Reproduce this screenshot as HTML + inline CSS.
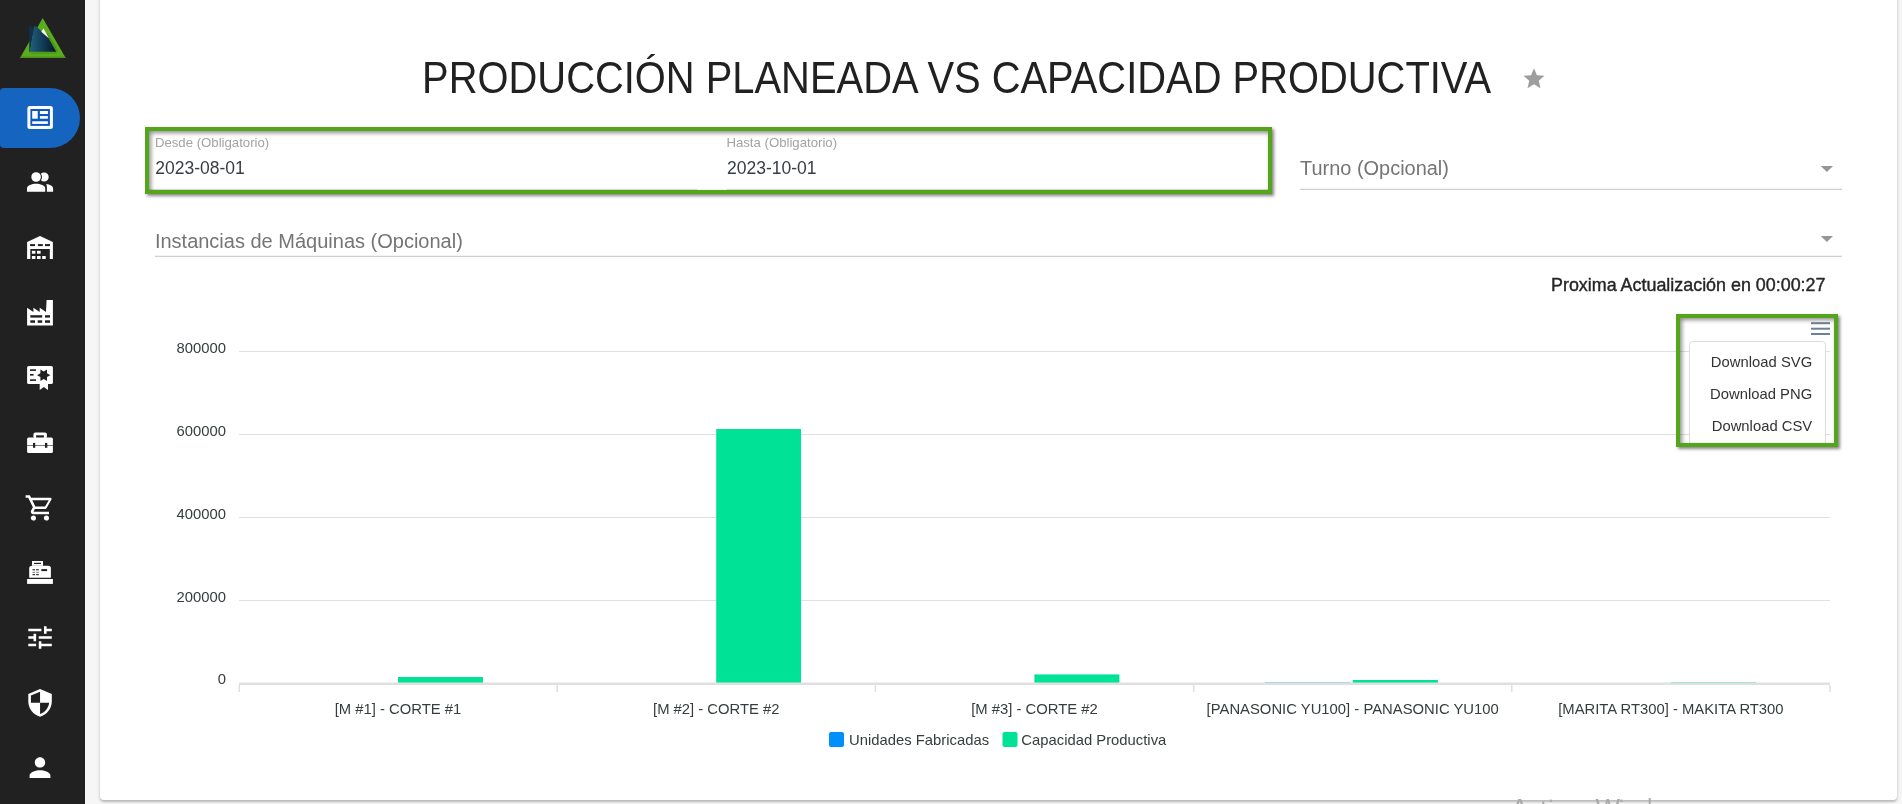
<!DOCTYPE html>
<html><head><meta charset="utf-8">
<style>
html,body{margin:0;padding:0;}
body{width:1902px;height:804px;overflow:hidden;background:#f6f6f6;position:relative;font-family:"Liberation Sans",sans-serif;}
#side{position:absolute;left:0;top:0;width:85px;height:804px;background:#212121;}
#pill{position:absolute;left:0;top:88px;width:80px;height:60px;background:#1565c0;border-radius:4px 30px 30px 4px;}
#card{position:absolute;left:100px;top:-10px;width:1797px;height:810px;background:#fff;border-radius:4px;box-shadow:0 2px 2px rgba(0,0,0,.18),0 1px 4px rgba(0,0,0,.12);}
.gb{position:absolute;border:4px solid #54a51a;box-shadow:2px 2px 3px rgba(0,0,0,.48), inset 2px 2px 4px rgba(0,0,0,.45);box-sizing:border-box;}
.ylab text,.menu text,.sqe{transform-box:fill-box;transform-origin:right center;transform:scaleX(.963);}
.xlab text,.sqm{transform-box:fill-box;transform-origin:center center;transform:scaleX(.963);}
.sqs{transform-box:fill-box;transform-origin:left center;transform:scaleX(.963);}
#ov{position:absolute;left:0;top:0;will-change:transform;}
</style></head>
<body>
<div id="side"><div id="pill"></div></div>
<div id="card"></div>
<svg id="ov" width="1902" height="804" viewBox="0 0 1902 804" font-family="Liberation Sans, sans-serif">
<defs>
<linearGradient id="sail" x1="0" y1="0" x2="1" y2="0"><stop offset="0" stop-color="#20607f"/><stop offset="1" stop-color="#041628"/></linearGradient>
</defs>
<!-- logo -->
<polygon points="42.7,17.9 20,58 65.7,58" fill="#5aac1c"/>
<polygon points="21.4,56.6 64.9,56.6 65.7,58 20,58" fill="#4a8f1a"/>
<polygon points="46,33.6 49.2,38.4 53.6,46 56.6,51.7 58.2,51.7 55,45.6 50.8,38.2 47.6,33.4" fill="#4a9216"/>
<polygon points="29.8,51.8 56.4,51.8 57.5,54 31,54" fill="#4f9c17"/>
<polygon points="29.3,25 33.8,28.6 30.2,51.8 29.3,51.8" fill="#0f3249"/>
<polygon points="34.3,25.4 37.2,27.2 42.2,32 48.5,38 53,45.9 56.2,51.8 29.9,51.8" fill="url(#sail)"/>
<polygon points="43.5,28.6 41.3,31.7 48.9,38.2" fill="#fff"/>
<!-- icon0 active -->
<rect x="27.4" y="106" width="25.5" height="23.1" rx="2.5" fill="#fff"/>
<rect x="30.4" y="109" width="19.5" height="16.9" fill="#0b5ac2"/>
<rect x="32.2" y="111" width="5.5" height="7.7" fill="#fff"/>
<rect x="39.9" y="111" width="8" height="3" fill="#fff"/>
<rect x="39.9" y="116.1" width="8" height="2.6" fill="#fff"/>
<rect x="32.2" y="121.3" width="15.7" height="2.6" fill="#fff"/>

<g fill="#fff">
<!-- icon1 people -->
<path d="M40.88,173.72A4.6,4.6 0 1 1 40.88,180.28A5.8,5.8 0 0 0 40.88,173.72Z"/>
<circle cx="36.1" cy="177" r="4.8"/>
<path d="M27,191.8V188.4C27,185.2 32,183.7 36.1,183.7C40.2,183.7 45.2,185.2 45.2,188.4V191.8Z"/>
<path d="M46.2,184C50,184.5 53.1,186 53.1,188.5V191.8H46.9V188.6C46.9,186.8 46.8,185.4 46.2,184Z"/>
<!-- icon2 warehouse -->
<polygon points="27.1,259 27.1,242.1 40,236 52.9,242.1 52.9,259"/>
<g fill="#212121">
<rect x="30.3" y="249" width="19.5" height="10.2"/>
<rect x="30.1" y="244.1" width="4.9" height="2"/>
<rect x="37.9" y="244.1" width="4.9" height="2"/>
<rect x="45" y="244.1" width="5" height="2"/>
</g>
<rect x="31.9" y="250.8" width="3.5" height="2.9"/>
<rect x="37" y="250.8" width="3.6" height="2.9"/>
<rect x="31.9" y="256" width="3.5" height="3"/>
<rect x="37" y="256" width="3.6" height="3"/>
<rect x="42.2" y="256" width="3.5" height="3"/>
<!-- icon3 factory -->
<path d="M27.1,325.5V307.8L33.4,312V307.8L39.7,312V307.8L46,312L46.6,300H52.9V325.5Z"/>
<g fill="#212121">
<rect x="30.3" y="315.2" width="11.9" height="2.4"/>
<rect x="45" y="315.2" width="5" height="2.4"/>
<rect x="30.3" y="320.3" width="4.7" height="2.5"/>
<rect x="37.7" y="320.3" width="4.5" height="2.5"/>
<rect x="45" y="320.3" width="5" height="2.5"/>
</g>
<!-- icon4 certificate -->
<rect x="27.1" y="366" width="25.8" height="18" rx="1.6"/>
<polygon points="39.7,383 39.7,390 43.85,386.9 48,390 48,383"/>
<g fill="#212121">
<rect x="30" y="369.3" width="6" height="1.6"/>
<rect x="30" y="374" width="3.6" height="1.6"/>
<rect x="30" y="379.3" width="6" height="1.6"/>
<polygon points="50.30,375.20 47.00,373.29 47.00,369.48 43.70,371.39 40.40,369.48 40.40,373.29 37.10,375.20 40.40,377.11 40.40,380.92 43.70,379.01 47.00,380.92 47.00,377.11"/>
</g>
<!-- icon5 toolbox -->
<rect x="33.4" y="432.4" width="13.5" height="6" rx="2"/>
<rect x="36.1" y="435.3" width="7.8" height="3" fill="#212121"/>
<rect x="27.1" y="437.5" width="25.8" height="15.5" rx="1.5"/>
<rect x="27.1" y="445" width="25.8" height="1" fill="#212121" opacity=".6"/>
<rect x="33" y="442.9" width="2.2" height="4.9" fill="#212121"/>
<rect x="45" y="442.9" width="2.3" height="4.9" fill="#212121"/>
<!-- icon6 cart-outline -->
<path transform="translate(24.3,492.6) scale(1.3,1.27)" d="M17,18A2,2 0 0,1 19,20A2,2 0 0,1 17,22C15.89,22 15,21.1 15,20C15,18.89 15.89,18 17,18M1,2H4.27L5.21,4H20A1,1 0 0,1 21,5C21,5.17 20.95,5.34 20.88,5.5L17.3,11.97C16.96,12.58 16.3,13 15.55,13H8.1L7.2,14.63L7.17,14.75A0.25,0.25 0 0,0 7.42,15H19V17H7C5.89,17 5,16.1 5,15C5,14.65 5.09,14.32 5.24,14.04L6.6,11.59L3,4H1V2M7,18A2,2 0 0,1 9,20A2,2 0 0,1 7,22C5.89,22 5,21.1 5,20C5,18.89 5.89,18 7,18M16,11L18.78,6H6.14L8.5,11H16Z"/>
<!-- icon7 cash register -->
<rect x="27.1" y="579" width="25.8" height="4.9"/>
<path d="M29.2,577.8V568.2Q29.2,565.7 31.7,565.7H48.4Q50.9,565.7 50.9,568.2V577.8Z"/>
<rect x="32" y="561" width="11" height="4.8"/>
<g fill="#212121">
<rect x="34.1" y="562.8" width="6.9" height="1.2"/>
<rect x="32.5" y="569.2" width="2.5" height="1.1"/>
<rect x="36.1" y="569.2" width="2.7" height="1.1"/>
<rect x="32.5" y="571.8" width="2.5" height="1" opacity=".6"/>
<rect x="36.1" y="571.8" width="2.7" height="1" opacity=".6"/>
<rect x="32.5" y="574.1" width="2.5" height="1.1"/>
<rect x="36.1" y="574.1" width="2.7" height="1.1"/>
<rect x="41.3" y="569.1" width="5.8" height="2"/>
</g>
<!-- icon8 tune -->
<path transform="translate(24.38,622.57) scale(1.306,1.244)" d="M3 17v2h6v-2H3zM3 5v2h10V5H3zm10 16v-2h8v-2h-8v-2h-2v6h2zM7 9v2H3v2h4v2h2V9H7zm14 4v-2H11v2h10zm-6-4h2V7h4V5h-4V3h-2v6z"/>
<!-- icon9 security -->
<path transform="translate(24.38,687.64) scale(1.306,1.264)" d="M12 1L3 5v6c0 5.55 3.84 10.74 9 12 5.16-1.26 9-6.45 9-12V5l-9-4zm0 10.99h7c-.53 4.12-3.28 7.79-7 8.94V12H5V6.3l7-3.11v8.8z"/>
<!-- icon10 person -->
<path transform="translate(24.4,752) scale(1.3)" d="M12 12c2.21 0 4-1.79 4-4s-1.79-4-4-4-4 1.79-4 4 1.79 4 4 4zm0 2c-2.67 0-8 1.34-8 4v2h16v-2c0-2.66-5.33-4-8-4z"/>
</g>

<!-- title -->
<text x="422.1" y="92.9" font-size="44.8" fill="#212121" transform="translate(422.1,0) scale(0.8906,1) translate(-422.1,0)">PRODUCCIÓN PLANEADA VS CAPACIDAD PRODUCTIVA</text>
<path transform="translate(1521.4,66.1) scale(1.05)" d="M12 17.27L18.18 21l-1.64-7.03L22 9.24l-7.19-.61L12 2 9.19 8.63 2 9.24l5.46 4.73L5.82 21z" fill="#9e9e9e"/>

<!-- inputs -->
<rect x="149" y="189" width="548" height="1" fill="#e2dfe8"/>
<rect x="727" y="189" width="541" height="1" fill="#e2dfe8"/>
<text x="154.9" y="147" font-size="13.2" fill="#a3a3a3">Desde (Obligatorio)</text>
<text x="155.3" y="174" font-size="17.5" fill="#383d44">2023-08-01</text>
<text x="726.4" y="147" font-size="13.2" fill="#a3a3a3">Hasta (Obligatorio)</text>
<text x="727" y="174" font-size="17.5" fill="#383d44">2023-10-01</text>

<text x="1300.1" y="174.8" font-size="19.95" fill="#757575">Turno (Opcional)</text>
<rect x="1300" y="188.8" width="542" height="1" fill="#c4c4c4"/>
<polygon points="1820.8,166 1833,166 1826.9,172" fill="#959595"/>

<text x="154.9" y="247.7" font-size="20" fill="#757575">Instancias de Máquinas (Opcional)</text>
<rect x="155" y="255.8" width="1687" height="1" fill="#c4c4c4"/>
<polygon points="1820.8,236 1833,236 1826.9,242" fill="#959595"/>

<text x="1825.5" y="290.8" font-size="17.9" fill="#262626" stroke="#262626" stroke-width="0.4" text-anchor="end">Proxima Actualización en 00:00:27</text>

<!-- chart grid -->
<g fill="#e0e0e0">
<rect x="239" y="351" width="1591" height="1"/>
<rect x="239" y="434" width="1591" height="1"/>
<rect x="239" y="517" width="1591" height="1"/>
<rect x="239" y="600" width="1591" height="1"/>
</g>
<!-- bars -->
<g fill="#00e396">
<rect x="398" y="677" width="85" height="6"/>
<rect x="716.2" y="429" width="84.8" height="254"/>
<rect x="1034.4" y="674.4" width="85" height="8.6"/>
<rect x="1352.7" y="680" width="85.2" height="3"/>
<rect x="1671" y="682" width="85" height="1" opacity=".6"/>
</g>
<rect x="1265" y="682" width="85.3" height="1" fill="#008ffb" opacity=".5"/>
<!-- axis -->
<g fill="#e0e0e0">
<rect x="239" y="682.5" width="1591" height="2.5"/>
<rect x="238.5" y="685" width="1.5" height="7"/>
<rect x="556.5" y="685" width="1.5" height="7"/>
<rect x="874.7" y="685" width="1.5" height="7"/>
<rect x="1193" y="685" width="1.5" height="7"/>
<rect x="1511" y="685" width="1.5" height="7"/>
<rect x="1829.2" y="685" width="1.5" height="7"/>
</g>
<!-- y labels -->
<g font-size="15.4" fill="#373d3f" text-anchor="end" class="ylab">
<text x="226" y="352.9">800000</text>
<text x="226" y="435.8">600000</text>
<text x="226" y="518.7">400000</text>
<text x="226" y="601.6">200000</text>
<text x="226" y="683.9">0</text>
</g>
<!-- x labels -->
<g font-size="15.4" fill="#373d3f" text-anchor="middle" class="xlab">
<text x="398" y="714">[M #1] - CORTE #1</text>
<text x="716.3" y="714">[M #2] - CORTE #2</text>
<text x="1034.5" y="714">[M #3] - CORTE #2</text>
<text x="1352.7" y="714">[PANASONIC YU100] - PANASONIC YU100</text>
<text x="1670.9" y="714">[MARITA RT300] - MAKITA RT300</text>
</g>
<!-- legend -->
<rect x="829" y="732" width="15" height="15" rx="2" fill="#008ffb"/>
<text x="849" y="745" font-size="15.4" fill="#373d3f" class="sqs">Unidades Fabricadas</text>
<rect x="1002.5" y="732" width="15" height="15" rx="2" fill="#00e396"/>
<text x="1021.3" y="745" font-size="15.4" fill="#373d3f" class="sqs">Capacidad Productiva</text>

<!-- hamburger -->
<g fill="#6e8192">
<rect x="1811" y="322.2" width="19" height="2"/>
<rect x="1811" y="327.7" width="19" height="2"/>
<rect x="1811" y="333" width="19" height="2"/>
</g>
<!-- menu -->
<rect x="1689.5" y="341.5" width="136" height="103" rx="3" fill="#fff" stroke="#dcdcdc" stroke-width="1"/>
<g font-size="15.4" fill="#333" text-anchor="end" class="menu">
<text x="1812.2" y="367.2">Download SVG</text>
<text x="1812.2" y="399">Download PNG</text>
<text x="1812.2" y="430.9">Download CSV</text>
</g>
<!-- watermark -->
<g fill="#a9a9a9" font-size="26"><text x="1511" y="816.9">A</text><text x="1595.5" y="816.9">W</text>
<rect x="1542.3" y="801.3" width="2" height="3"/><rect x="1549.8" y="799.6" width="2" height="2.4"/><rect x="1620.6" y="799.6" width="2" height="2.4"/><rect x="1648.7" y="798" width="2" height="6"/></g>
</svg>
<div class="gb" style="left:145px;top:127px;width:1127px;height:67px;"></div>
<div class="gb" style="left:1676px;top:314px;width:162px;height:133px;"></div>
</body></html>
